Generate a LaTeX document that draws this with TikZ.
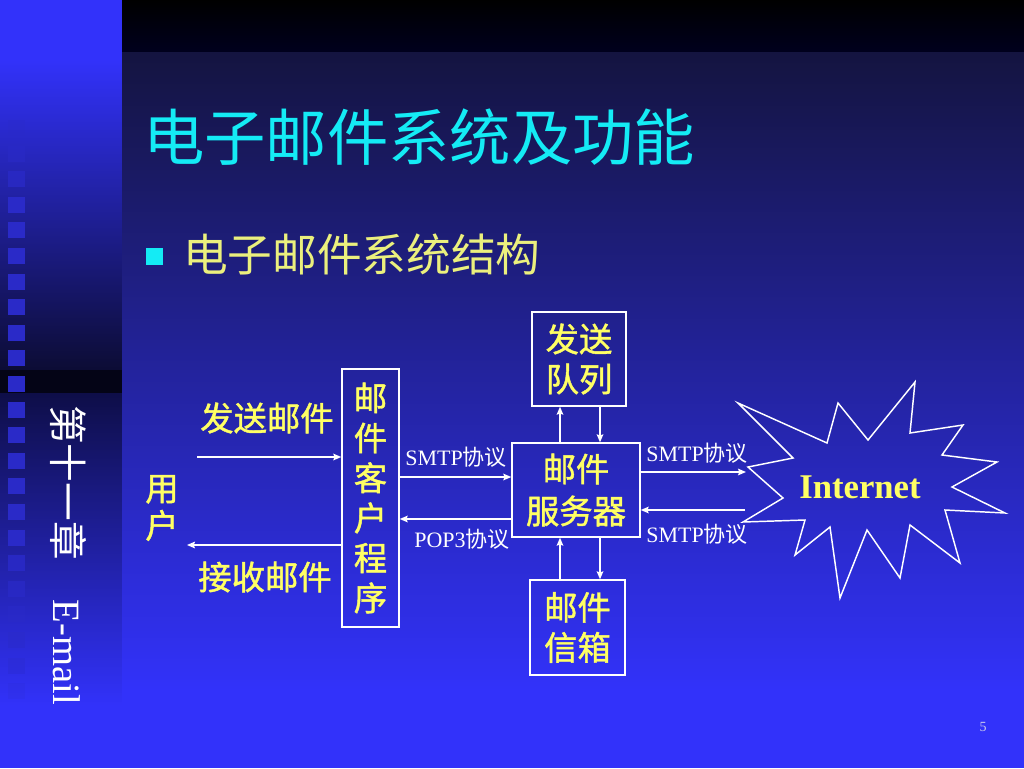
\documentclass[tikz,border=0pt]{standalone}
\usepackage{fontspec}
\setmainfont{Liberation Serif}
\newfontfamily\cjk{Noto Sans CJK SC}
\newfontfamily\cjkb[FakeBold=1.3]{Noto Sans CJK SC}
\usetikzlibrary{arrows.meta}
\definecolor{bright}{RGB}{50,50,250}
\definecolor{sbdark}{RGB}{12,12,52}
\definecolor{sbband}{RGB}{4,4,22}
\definecolor{sbnavy}{RGB}{14,14,72}
\definecolor{mtop}{RGB}{20,20,64}
\definecolor{hdrbot}{RGB}{0,0,30}
\definecolor{sqcol}{RGB}{42,42,200}
\definecolor{titlecyan}{RGB}{20,235,245}
\definecolor{subyel}{RGB}{235,240,125}
\definecolor{ylw}{RGB}{255,255,100}
\definecolor{pgnum}{RGB}{200,200,235}
\begin{document}
\begin{tikzpicture}[x=0.75pt,y=-0.75pt,
  boxnode/.style={draw=white, line width=1.1pt, inner sep=0pt, align=center, text=ylw, font=\cjkb\fontsize{25}{30}\selectfont},
  ylab/.style={text=ylw, inner sep=0pt, align=center, font=\cjkb\fontsize{25}{28}\selectfont},
  wlab/.style={text=white, inner sep=0pt, font=\fontsize{16.5}{20}\selectfont},
  arr/.style={draw=white, line width=1.1pt, -{Stealth[length=6pt,width=5pt,inset=1pt]}},
  outline/.style={draw=white, line width=1.1pt, line join=miter}
]
\useasboundingbox (0,0) rectangle (1024,768);
% ---- sidebar background
\fill[bright] (0,0) rectangle (122.5,61);
\shade[top color=bright, bottom color=sbdark] (0,60) rectangle (122.5,370.5);
\fill[sbband] (0,370) rectangle (122.5,393.5);
\shade[top color=sbnavy, bottom color=bright] (0,393) rectangle (122.5,705.5);
\fill[bright] (0,705) rectangle (122.5,768);
% ---- main background
\shade[top color=black, bottom color=hdrbot] (122,0) rectangle (1024,52.5);
\shade[top color=mtop, bottom color=bright] (122,52) rectangle (1024,690.5);
\fill[bright] (122,690) rectangle (1024,768);
% ---- squares on sidebar
\foreach \k in {0,...,22}{
  \pgfmathsetmacro\op{min(1,min((\k+1)/4,(23-\k)/7))}
  \fill[sqcol, opacity=\op] (8,{120+25.6*\k}) rectangle (25,{136+25.6*\k});
}
% ---- sidebar text
\node[rotate=-90, anchor=west, inner sep=0pt, text=white, font=\fontsize{29}{30}\selectfont] (side) at (68,405) {{\cjk 第十一章}\hspace{30pt}E-mail};
% ---- title and bullet
\node[anchor=west, inner sep=0pt, text=titlecyan, font=\cjk\fontsize{46}{50}\selectfont] (title) at (143,137) {电子邮件系统及功能};
\node[fill=titlecyan, minimum size=12.75pt, inner sep=0pt] (bullet) at (154.5,256.5) {};
\node[anchor=west, inner sep=0pt, text=subyel, font=\cjk\fontsize{33.5}{36}\selectfont] (sub) at (183,254) {电子邮件系统结构};
% ---- boxes
\node[boxnode, minimum width=42.75pt, minimum height=193.5pt] (client) at (370.5,498) {邮\\件\\客\\户\\程\\序};
\node[boxnode, minimum width=96pt, minimum height=70.5pt, font=\cjkb\fontsize{25}{31.5}\selectfont] (server) at (576,490) {邮件\\服务器};
\node[boxnode, minimum width=70.5pt, minimum height=70.5pt] (queue) at (579,359) {发送\\队列};
\node[boxnode, minimum width=71.25pt, minimum height=71.25pt] (mailbox) at (577.5,627.5) {邮件\\信箱};
% ---- user
\node[ylab] (user) at (162,508) {用\\户};
\node[ylab] (t1) at (267,418) {发送邮件};
\node[ylab] (t2) at (265,577) {接收邮件};
% ---- internet starburst
\draw[outline] (738,403) -- (827,443) -- (838,403) -- (868,440) -- (915,382) -- (910,433) -- (963,425) -- (942,455) -- (997,462) -- (952,487) -- (1005,513) -- (945,510) -- (960,563) -- (910,525) -- (900,578) -- (867,530) -- (840,598) -- (830,527) -- (795,555) -- (805,520) -- (743,522) -- (783,498) -- (748,467) -- (793,458) -- cycle;
\node[inner sep=0pt, text=ylw, font=\bfseries\fontsize{26}{28}\selectfont] (inet) at (860,487) {Internet};
% ---- connectors
\coordinate (sendS) at (197,457);
\coordinate (recvE) at (187,545);
\draw[arr] (sendS) -- (client.west |- sendS);
\draw[arr] (client.west |- recvE) -- (recvE);
\coordinate (smtpY) at (0,477);
\coordinate (popY) at (0,519);
\draw[arr] (client.east |- smtpY) -- (server.west |- smtpY);
\draw[arr] (server.west |- popY) -- (client.east |- popY);
\coordinate (vL) at (560,0);
\coordinate (vR) at (600,0);
\draw[arr] (server.north -| vL) -- (queue.south -| vL);
\draw[arr] (queue.south -| vR) -- (server.north -| vR);
\draw[arr] (mailbox.north -| vL) -- (server.south -| vL);
\draw[arr] (server.south -| vR) -- (mailbox.north -| vR);
\coordinate (inTo) at (746,472);
\coordinate (inFrom) at (745,510);
\draw[arr] (server.east |- inTo) -- (inTo);
\draw[arr] (inFrom) -- (server.east |- inFrom);
% ---- protocol labels
\node[wlab] (l1) at (456,457) {SMTP{\cjk 协议}};
\node[wlab] (l2) at (462,539) {POP3{\cjk 协议}};
\node[wlab] (l3) at (697,453) {SMTP{\cjk 协议}};
\node[wlab] (l4) at (697,534) {SMTP{\cjk 协议}};
% ---- page number
\node[inner sep=0pt, text=pgnum, font=\fontsize{10.5}{12}\selectfont] (pg) at (983,727) {5};
\end{tikzpicture}
\end{document}
